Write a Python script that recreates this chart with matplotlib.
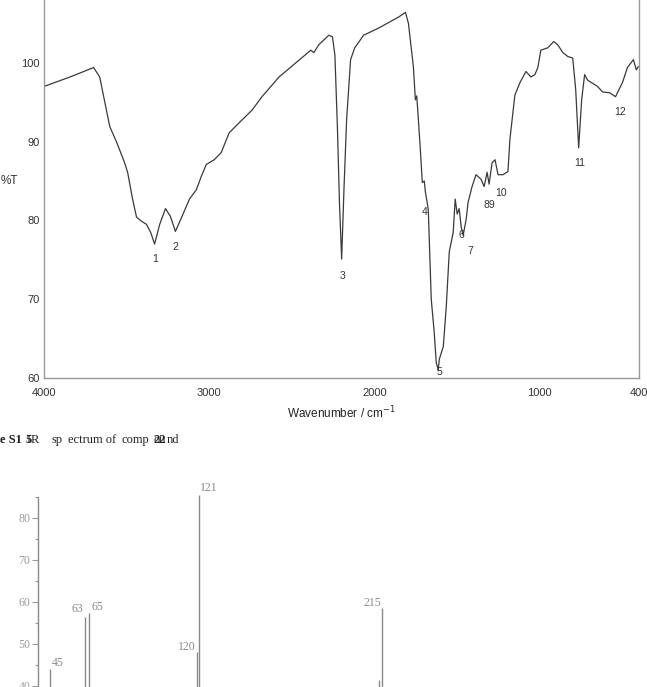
import numpy as np
import matplotlib
matplotlib.use("Agg")
import matplotlib.pyplot as plt
from matplotlib.ticker import MultipleLocator

# IR spectrum trace (wavenumber cm-1, %T)
ir_wn = [4000, 3843, 3759, 3700, 3663, 3602, 3560, 3512, 3494, 3464, 3440, 3410,
         3380, 3355, 3331, 3300, 3265, 3235, 3205, 3165, 3120, 3078, 3048, 3018,
         2970, 2928, 2880, 2819, 2741, 2681, 2578, 2476, 2386, 2367, 2337, 2277,
         2255, 2240, 2225, 2212, 2199, 2185, 2169, 2145, 2120, 2066, 1976, 1855,
         1813, 1795, 1765, 1753, 1745, 1737, 1723, 1711, 1699, 1693, 1675, 1657,
         1639, 1627, 1615, 1608, 1584, 1566, 1548, 1524, 1512, 1500, 1488, 1476,
         1464, 1446, 1434, 1410, 1386, 1355, 1337, 1319, 1307, 1289, 1271, 1253,
         1223, 1193, 1181, 1151, 1120, 1084, 1054, 1030, 1012, 994, 952, 916,
         892, 861, 831, 801, 783, 765, 747, 729, 711, 651, 620, 578, 542, 500,
         470, 434, 416, 405]
ir_t = [97.0, 98.2, 98.9, 99.4, 98.2, 91.9, 89.9, 87.3, 86.1, 82.7, 80.4, 79.9,
        79.5, 78.5, 77.0, 79.5, 81.5, 80.5, 78.6, 80.5, 82.7, 83.9, 85.6, 87.1,
        87.7, 88.6, 91.1, 92.4, 94.0, 95.7, 98.2, 100.0, 101.6, 101.3, 102.3, 103.5,
        103.3, 101.0, 92.0, 82.0, 75.1, 84.0, 92.8, 100.4, 101.9, 103.5, 104.4, 105.8,
        106.4, 105.0, 99.5, 95.3, 95.8, 93.5, 89.0, 84.8, 85.0, 83.7, 81.4, 70.0,
        65.8, 62.0, 61.0, 62.4, 64.0, 69.1, 76.0, 78.5, 82.7, 80.8, 81.5, 79.2,
        78.1, 80.1, 82.3, 84.3, 85.8, 85.2, 84.3, 86.1, 84.6, 87.3, 87.7, 85.8,
        85.8, 86.2, 90.3, 95.9, 97.5, 98.9, 98.2, 98.5, 99.4, 101.6, 101.9, 102.7,
        102.3, 101.3, 100.8, 100.6, 96.6, 89.2, 95.3, 98.5, 97.8, 97.0, 96.3, 96.2,
        95.7, 97.5, 99.4, 100.4, 99.1, 99.5]

# peak numbering on the IR plot
ir_peak_labels = ['1', '2', '3', '4', '5', '6', '7', '89', '10', '11', '12']
ir_peak_wn = [3328, 3207, 2191, 1695, 1610, 1477, 1423, 1308, 1235, 757, 515]
ir_peak_t = [75.1, 76.6, 73.0, 81.1, 60.8, 78.1, 76.1, 82.0, 83.5, 87.3, 93.8]

# mass spectrum (m/z, relative intensity)
ms_mz = [45, 63, 65, 120, 121, 213, 215]
ms_int = [44.0, 56.4, 57.4, 48.2, 85.5, 41.5, 58.6]
ms_labels = ['45', '63', '65', '120', '121', '', '215']
# label offsets in pixels from peak top
ms_dx = [8, -8, 8, -10, 10, 0, -10]
ms_dy = [6, 8, 6, 5, 7, 0, 5]

W, H = 647, 687
fig = plt.figure(figsize=(W / 100, H / 100), dpi=100)

sans = ['Liberation Sans', 'DejaVu Sans']
serif = ['Liberation Serif', 'DejaVu Serif']

# ---- IR spectrum ----
ax = fig.add_axes([44 / W, (H - 378) / H, 595 / W, 394 / H])
ax.plot(ir_wn, ir_t, color='#3a3a3a', lw=0.9)
ax.set_xlim(4000, 400)
ax.set_ylim(60, 110)
ax.set_xticks([4000, 3000, 2000, 1000, 400])
ax.set_yticks([60, 70, 80, 90, 100])
ax.tick_params(length=0, labelsize=8, colors='#333333')
ax.tick_params(axis='x', pad=7)
ax.tick_params(axis='y', pad=3)
for lab in ax.get_xticklabels() + ax.get_yticklabels():
    lab.set_family(sans)
for s in ['left', 'bottom', 'right']:
    ax.spines[s].set_color('#999999')
    ax.spines[s].set_linewidth(1)
ax.spines['top'].set_visible(False)
ax.set_xlabel('Wavenumber / cm$^{-1}$', fontsize=8.5, family=sans,
              color='#222222', labelpad=5)
ax.set_ylabel('%T', rotation=0, fontsize=8.5, family=sans, color='#333333')
ax.yaxis.set_label_coords(-0.059, 0.485)
for lab, w, t in zip(ir_peak_labels, ir_peak_wn, ir_peak_t):
    ax.text(w, t, lab, fontsize=7.5, family=sans, color='#333333',
            ha='center', va='center')

# ---- caption ----
cy = 1 - 440 / H
def cap(x, s, bold=False):
    fig.text(x / W, cy, s, fontsize=9, family=serif, va='center',
             weight='bold' if bold else 'normal', color='#222222')
cap(0, 'e S1', True)
cap(25, '5', True)
cap(27, 'I')
cap(31, 'R')
cap(52, 'sp')
cap(68, 'ectrum of')
cap(122, 'comp')
cap(153, 'ou')
cap(153, '22', True)
cap(167, 'nd')

# ---- mass spectrum ----
x0_px, x1_px = 38, 666
y_top, y_bot = 497, 497 + 85 * 4.2
mx = fig.add_axes([x0_px / W, (H - y_bot) / H, (x1_px - x0_px) / W,
                   (y_bot - y_top) / H])
mx.set_xlim(38.9, 360)
mx.set_ylim(0, 85)
mx.vlines(ms_mz, 0, ms_int, color='#8a8a8a', lw=1, clip_on=False)
for m, v, lab, dx, dy in zip(ms_mz, ms_int, ms_labels, ms_dx, ms_dy):
    if lab:
        mx.annotate(lab, (m, v), xytext=(dx, dy), textcoords='offset pixels',
                    fontsize=8.5, family=serif, color='#8a8a8a',
                    ha='center', va='center', annotation_clip=False)
mx.yaxis.set_major_locator(MultipleLocator(10))
mx.yaxis.set_minor_locator(MultipleLocator(5))
mx.set_yticks([40, 50, 60, 70, 80])
mx.tick_params(axis='y', which='major', length=4, width=0.8, colors='#9a9a9a',
               labelsize=8.5, pad=1.5)
mx.tick_params(axis='y', which='minor', length=2.5, width=0.8, colors='#9a9a9a')
for lab in mx.get_yticklabels():
    lab.set_family(serif)
mx.set_xticks([])
for s in ['top', 'right', 'bottom']:
    mx.spines[s].set_visible(False)
mx.spines['left'].set_color('#8a8a8a')
mx.spines['left'].set_linewidth(1)

fig.savefig('out.png', dpi=100)
